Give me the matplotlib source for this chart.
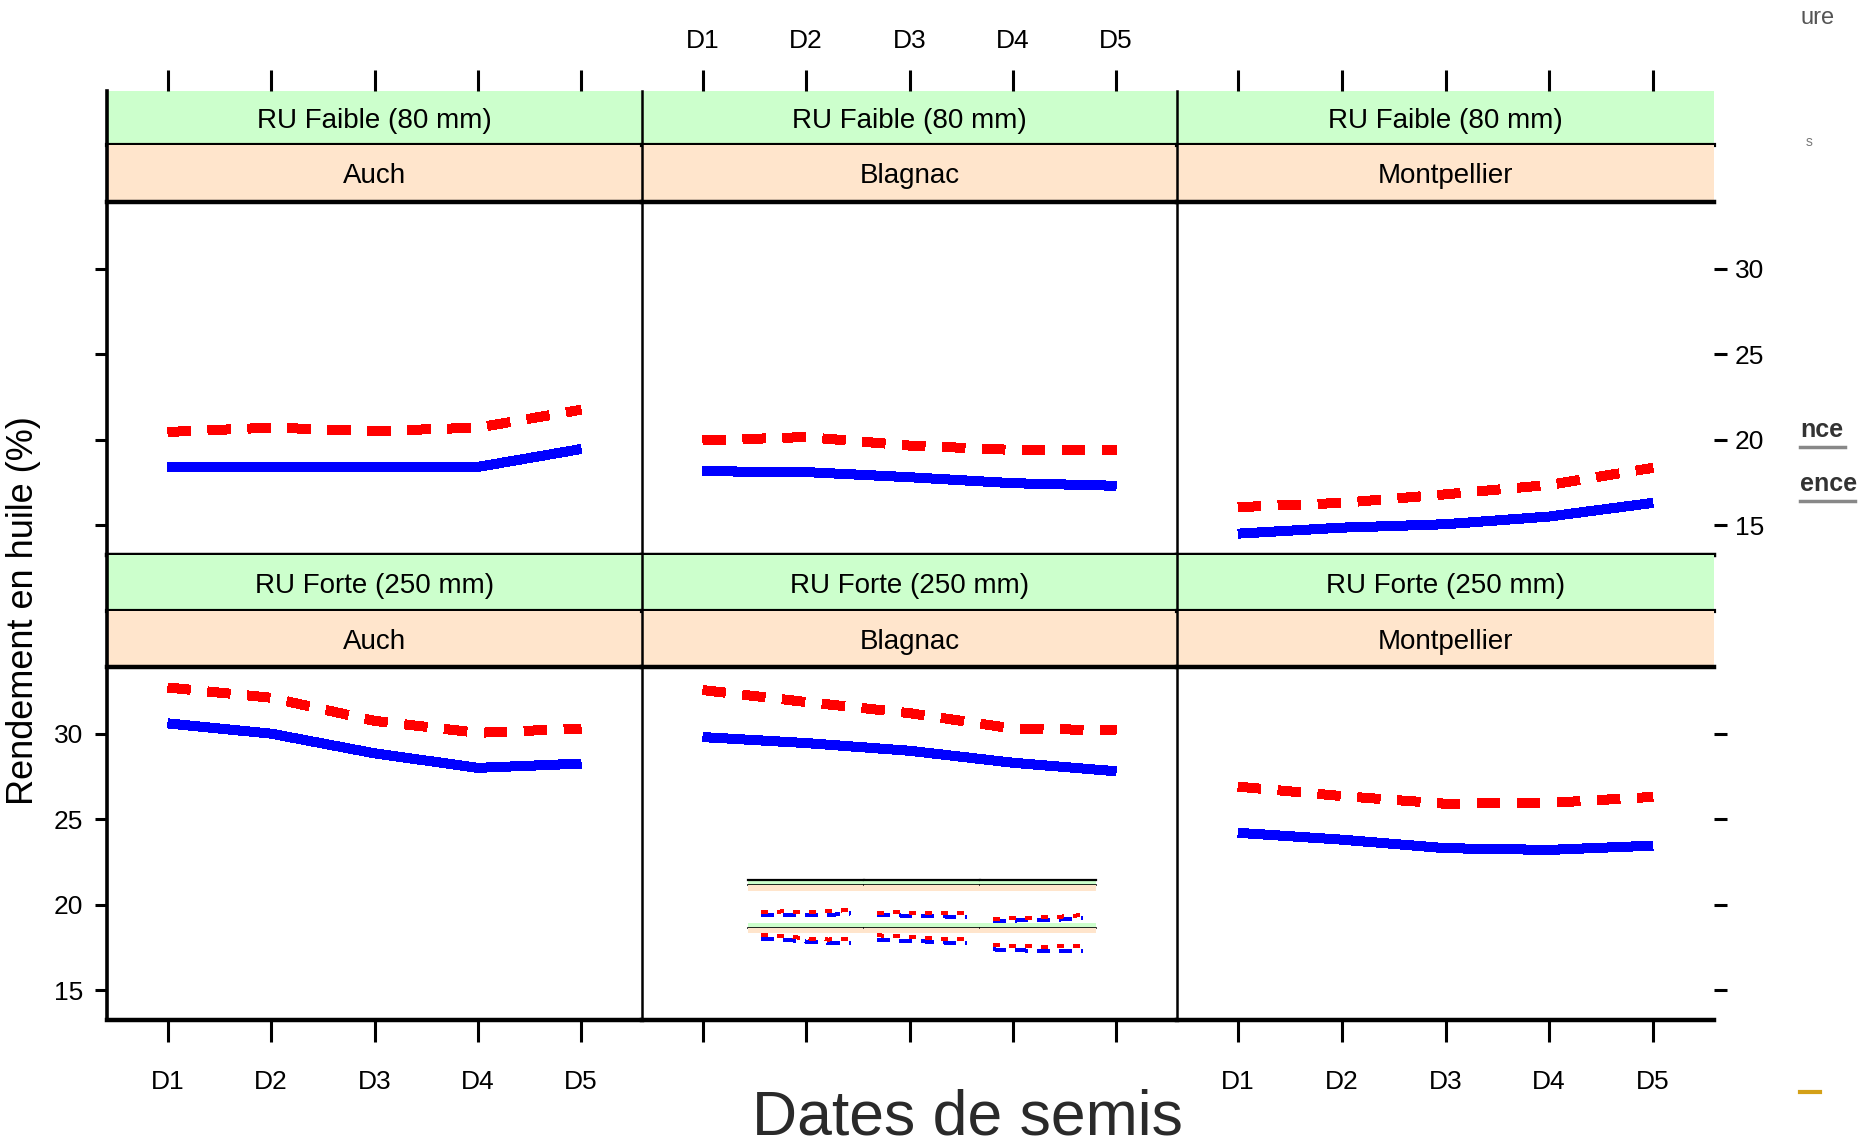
import matplotlib
matplotlib.use("Agg")
import matplotlib.pyplot as plt

# data
dates = ["D1", "D2", "D3", "D4", "D5"]
x = [1, 2, 3, 4, 5]
sites = ["Auch", "Blagnac", "Montpellier"]
soils = ["RU Faible (80 mm)", "RU Forte (250 mm)"]
y_ticks = [15, 20, 25, 30]

# blue solid / red dashed, one list per panel (row = soil, col = site)
faible_blue = [
    [18.4, 18.4, 18.4, 18.4, 19.45],
    [18.15, 18.1, 17.8, 17.45, 17.3],
    [14.5, 14.85, 15.05, 15.5, 16.3],
]
faible_red = [
    [20.45, 20.7, 20.5, 20.7, 21.75],
    [19.95, 20.15, 19.65, 19.4, 19.4],
    [16.05, 16.3, 16.8, 17.35, 18.35],
]
forte_blue = [
    [30.6, 30.0, 28.85, 28.0, 28.25],
    [29.8, 29.45, 29.0, 28.3, 27.8],
    [24.2, 23.8, 23.3, 23.2, 23.45],
]
forte_red = [
    [32.7, 32.1, 30.75, 30.05, 30.3],
    [32.55, 31.85, 31.2, 30.3, 30.2],
    [26.9, 26.35, 25.9, 25.95, 26.3],
]

blues = [faible_blue, forte_blue]
reds = [faible_red, forte_red]

W, H = 1860, 1147
GREEN = "#CCFFCC"
ORANGE = "#FFE5CC"
NARROW = ["Liberation Sans Narrow", "Liberation Sans", "DejaVu Sans"]
plt.rcParams["font.family"] = ["Liberation Sans", "DejaVu Sans"]


def rect(x0, y0, x1, y1):
    return [x0 / W, 1 - y1 / H, (x1 - x0) / W, (y1 - y0) / H]


fig = plt.figure(figsize=(W / 100, H / 100), dpi=100)

col_x = [107, 642, 1177, 1714]
rows = [(91, 145, 202, 555), (555, 611, 667, 1020)]
XLIM = (0.41, 5.59)
YLIM = (13.25, 33.9)


def clean(ax):
    for s in ax.spines.values():
        s.set_visible(False)
    ax.set_xticks([])
    ax.set_yticks([])


for r, (g0, o0, p0, p1) in enumerate(rows):
    for c in range(3):
        x0, x1 = col_x[c], col_x[c + 1]
        lw_side = 2.6 if c == 0 else 1.8

        # strips
        gs = fig.add_axes(rect(x0, g0, x1, o0))
        clean(gs)
        gs.set_facecolor(GREEN)
        gs.set_xlim(*XLIM)
        gs.spines["left"].set_visible(True)
        gs.spines["left"].set_linewidth(lw_side)
        gs.spines["bottom"].set_visible(True)
        gs.spines["bottom"].set_linewidth(3)
        gs.text(0.5, 0.45, soils[r], transform=gs.transAxes, ha="center",
                va="center", fontsize=20, family=NARROW)
        if r == 0:
            gs.xaxis.tick_top()
            gs.set_xticks(x)
            gs.tick_params(axis="x", direction="out", length=15, width=2.2,
                           pad=12, labelsize=19)
            if c == 1:
                gs.set_xticklabels(dates, family=NARROW)
            else:
                gs.set_xticklabels([])

        ob = fig.add_axes(rect(x0, o0, x1, p0))
        clean(ob)
        ob.set_facecolor(ORANGE)
        ob.spines["left"].set_visible(True)
        ob.spines["left"].set_linewidth(lw_side)
        ob.text(0.5, 0.45, sites[c], transform=ob.transAxes, ha="center",
                va="center", fontsize=20, family=NARROW)

        # panel
        ax = fig.add_axes(rect(x0, p0, x1, p1))
        ax.set_xlim(*XLIM)
        ax.set_ylim(*YLIM)
        ax.spines["right"].set_visible(False)
        ax.spines["left"].set_linewidth(lw_side)
        ax.spines["top"].set_linewidth(3.2)
        ax.spines["bottom"].set_linewidth(3.2)

        ax.plot(x, blues[r][c], color="#0000FF", lw=6.5,
                solid_capstyle="butt", antialiased=False)
        ax.plot(x, reds[r][c], color="#FF0000", lw=6.5, dashes=(2.5, 1.9),
                dash_capstyle="butt", antialiased=False)

        # x ticks
        if r == 1:
            ax.set_xticks(x)
            ax.tick_params(axis="x", direction="out", length=16, width=2.2,
                           pad=20, labelsize=19)
            if c != 1:
                ax.set_xticklabels(dates, family=NARROW)
            else:
                ax.set_xticklabels([])
        else:
            ax.set_xticks([])

        # y ticks
        ax.set_yticks(y_ticks)
        ax.tick_params(axis="y", direction="out", length=9, width=2.2,
                       labelsize=19)
        if c == 0:
            ax.tick_params(axis="y", left=True, right=False,
                           labelleft=(r == 1), pad=8)
        elif c == 2:
            ax.yaxis.tick_right()
            ax.tick_params(axis="y", labelright=(r == 0), pad=6)
        else:
            ax.set_yticks([])
        for lab in ax.get_yticklabels() + ax.get_xticklabels():
            lab.set_family(NARROW)

# small thumbnail artefact inside the lower middle panel
mini_rows = [(880, 885, 891, 923), (923, 928, 933, 968)]
mini_x = [748, 864, 980, 1096]
for r, (g0, o0, p0, p1) in enumerate(mini_rows):
    for c in range(3):
        x0, x1 = mini_x[c], mini_x[c + 1]
        gs = fig.add_axes(rect(x0, g0, x1, o0))
        clean(gs)
        gs.set_facecolor(GREEN)
        if r == 0:
            gs.spines["top"].set_visible(True)
            gs.spines["top"].set_linewidth(1.6)
        gs.spines["bottom"].set_visible(True)
        gs.spines["bottom"].set_linewidth(1.2)
        ob = fig.add_axes(rect(x0, o0, x1, p0))
        clean(ob)
        ob.set_facecolor(ORANGE)
        ma = fig.add_axes(rect(x0, p0, x1, p1))
        clean(ma)
        ma.patch.set_alpha(0)
        ma.set_xlim(*XLIM)
        ma.set_ylim(*YLIM)
        ma.plot(x, blues[r][c], color="#0000FF", lw=2.2, dashes=(4, 3),
                antialiased=False)
        ma.plot(x, reds[r][c], color="#FF0000", lw=2.2, dashes=(2, 3),
                antialiased=False)

# axis titles
fig.text(24 / W, 1 - 611 / H, "Rendement en huile (%)", rotation=90,
         ha="center", va="center", fontsize=26, family=NARROW)
fig.text(967 / W, 1 - 1118 / H, "Dates de semis", ha="center", va="center",
         fontsize=45, color="#2a2a2a")

# cut-off bits at the right edge
fig.text(1800 / W, 1 - 18 / H, "ure", ha="left", va="center", fontsize=17,
         color="#555555")
fig.text(1806 / W, 1 - 142 / H, "s", ha="left", va="center", fontsize=10,
         color="#777777")
fig.text(1800 / W, 1 - 430 / H, "nce", ha="left", va="center", fontsize=18,
         fontweight="bold", color="#333333")
fig.text(1800 / W, 1 - 484 / H, "ence", ha="left", va="center", fontsize=18,
         fontweight="bold", color="#333333")
fig.add_artist(plt.Line2D([1800 / W, 1845 / W], [1 - 447 / H, 1 - 447 / H],
                          color="#888888", lw=2.5))
fig.add_artist(plt.Line2D([1800 / W, 1855 / W], [1 - 501 / H, 1 - 501 / H],
                          color="#888888", lw=2.5))
fig.add_artist(plt.Line2D([1800 / W, 1820 / W], [1 - 1092 / H, 1 - 1092 / H],
                          color="#d4a017", lw=3))

fig.savefig("out.png", dpi=100)
